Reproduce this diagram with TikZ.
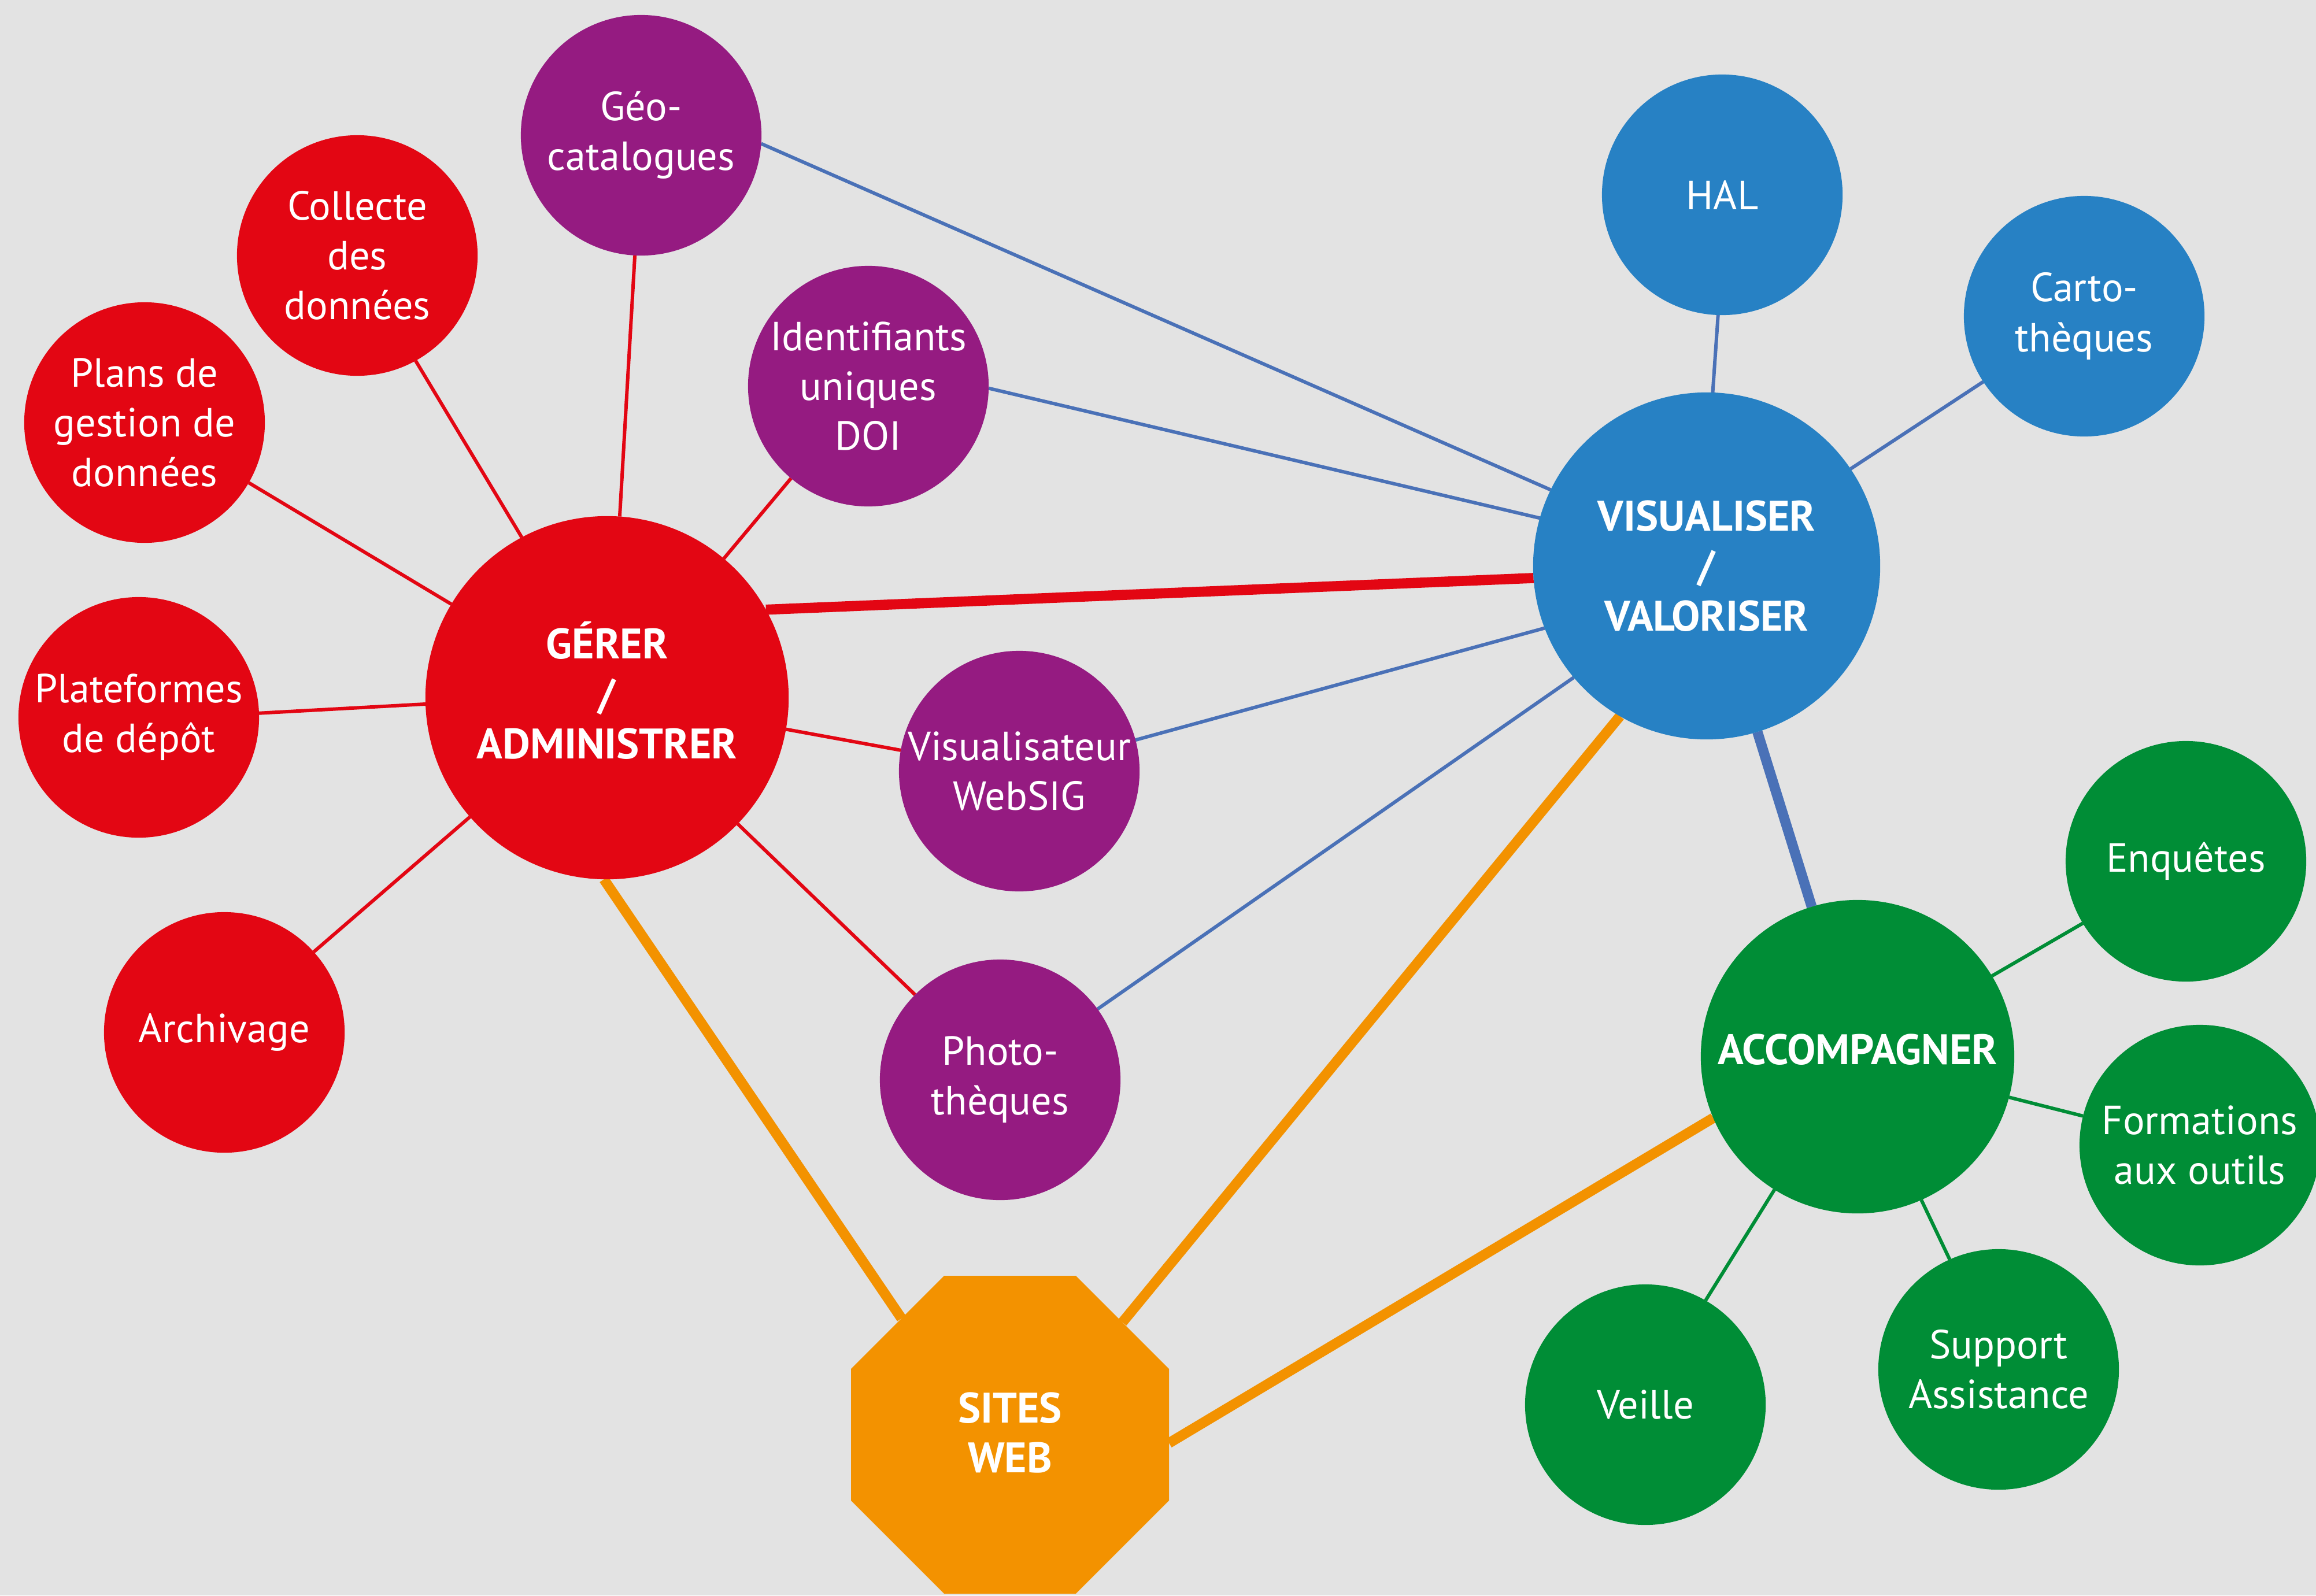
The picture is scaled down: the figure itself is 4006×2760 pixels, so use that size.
\documentclass[tikz,border=0pt]{standalone}
\usepackage{fontspec}
\setmainfont{PT Sans}
\usetikzlibrary{shapes.geometric}
\definecolor{fond}{HTML}{E3E3E3}
\definecolor{rouge}{HTML}{E30613}
\definecolor{mauve}{HTML}{951B81}
\definecolor{bleu}{HTML}{2781C4}
\definecolor{bleutrait}{HTML}{4A71B7}
\definecolor{vert}{HTML}{008D36}
\definecolor{orangeweb}{HTML}{F39200}
\pgfdeclarelayer{arriere}
\pgfdeclarelayer{liens}
\pgfsetlayers{arriere,liens,main}
\tikzset{bulle/.style={circle,fill=#1,text=white,inner sep=0pt,outer sep=0pt,
                       minimum size=4.16cm,align=center,
                       font=\fontsize{20}{24.5}\selectfont},
         pole/.style={bulle=#1,font=\fontsize{21}{24.5}\selectfont\bfseries},
         lien/.style={draw=#1,line width=1.7pt},
         fort/.style={draw=#1,line width=5pt},
         }

\begin{document}
\begin{tikzpicture}[x=0.01cm,y=-0.01cm]
\useasboundingbox (0,0) rectangle (4006,2760);
\begin{pgfonlayer}{arriere}
\fill[fond] (0,0) rectangle (4006,2760);
\end{pgfonlayer}
% poles
\node[pole=rouge,minimum size=6.28cm,text depth=0.26cm] (ger) at (1050,1207) {GÉRER\\/\\ADMINISTRER};
\node[pole=bleu,minimum size=6cm] (vis) at (2952,979) {VISUALISER\\/\\VALORISER};
\node[pole=vert,minimum size=5.42cm,text depth=0.26cm] (acc) at (3213,1828) {ACCOMPAGNER};
\node[pole=orangeweb,regular polygon,regular polygon sides=8,minimum size=5.95cm,text depth=0.08cm] (web) at (1747,2482) {SITES\\WEB};
% rouge
\node[bulle=rouge] (collecte) at (618,442) {Collecte\\des\\données};
\node[bulle=rouge] (plans) at (250,731) {Plans de\\gestion de\\données};
\node[bulle=rouge] (plateformes) at (240,1241) {Plateformes\\de dépôt};
\node[bulle=rouge] (archivage) at (388,1786) {Archivage};
% mauve
\node[bulle=mauve] (geo) at (1109,234) {Géo-\\catalogues};
\node[bulle=mauve] (doi) at (1502,668) {Identifiants\\uniques\\DOI};
\node[bulle=mauve] (websig) at (1763,1334) {Visualisateur\\WebSIG};
\node[bulle=mauve] (photo) at (1730,1868) {Photo-\\thèques};
% bleu
\node[bulle=bleu] (hal) at (2979,337) {HAL};
\node[bulle=bleu] (carto) at (3605,547) {Carto-\\thèques};
% vert
\node[bulle=vert] (enquetes) at (3781,1490) {Enquêtes};
\node[bulle=vert] (formations) at (3805,1981) {Formations\\aux outils};
\node[bulle=vert] (support) at (3457,2369) {Support\\Assistance};
\node[bulle=vert] (veille) at (2846,2430) {Veille};

\begin{pgfonlayer}{liens}
\draw[lien=rouge] (ger.86) -- (geo.267);
\draw[lien=rouge] (ger.118) -- (collecte.299);
\draw[lien=rouge] (ger.149) -- (plans.330);
\draw[lien=rouge] (ger.182) -- (plateformes.2.5);
\draw[lien=rouge] (ger.221) -- (archivage.42);
\draw[lien=rouge] (ger.50) -- (doi.230);
\draw[lien=rouge] (ger.350) -- (websig.170);
\draw[lien=rouge] (ger.316) -- (photo.135);
\draw[fort=rouge] (ger.29) -- (vis.184);
\draw[lien=bleutrait] (vis.154) -- (geo.356);
\draw[lien=bleutrait] (vis.164) -- (doi.359);
\draw[lien=bleutrait] (vis.201) -- (websig.15);
\draw[lien=bleutrait] (vis.220) -- (photo.36);
\draw[lien=bleutrait] (vis.88) -- (hal.268);
\draw[lien=bleutrait] (vis.34) -- (carto.213);
\draw[fort=bleutrait] (vis.287) -- (acc.107);
\draw[lien=vert] (acc.31) -- (enquetes.211);
\draw[lien=vert] (acc.345) -- (formations.166);
\draw[lien=vert] (acc.294) -- (support.114);
\draw[lien=vert] (acc.238) -- (veille.60);
\draw[fort=orangeweb] (ger.269) -- (web.133);
\draw[fort=orangeweb] (vis.240) -- (web.45);
\draw[fort=orangeweb] (acc.203) -- (web.357);
\end{pgfonlayer}
\end{tikzpicture}
\end{document}
